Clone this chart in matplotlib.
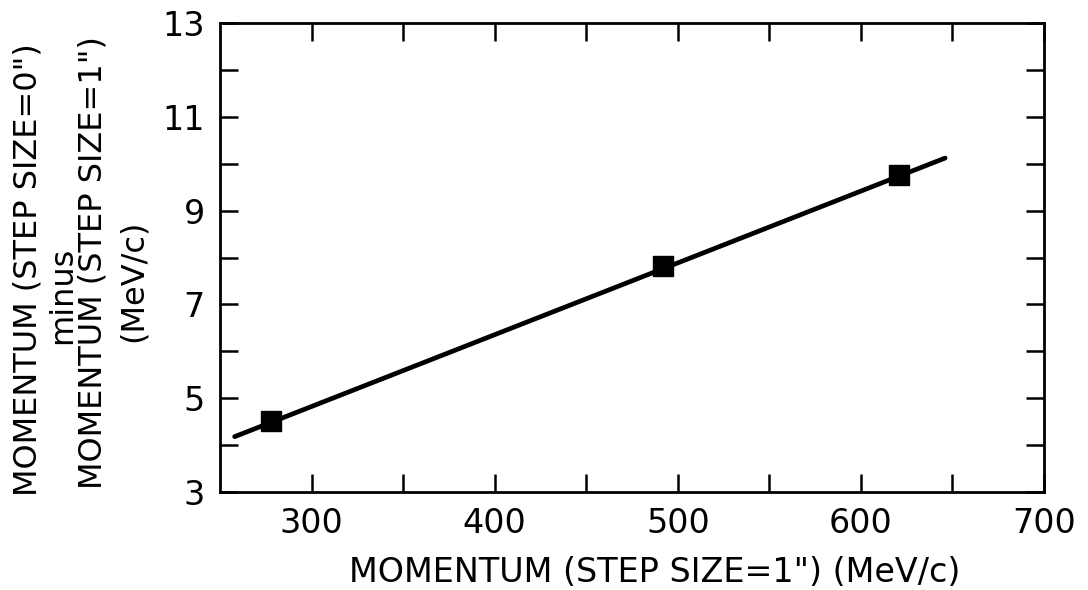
import matplotlib
matplotlib.use("Agg")
import matplotlib.pyplot as plt

# measured points (step size 1" momentum vs. difference)
p_step1 = [278, 492, 621]
dp = [4.52, 7.81, 9.75]

# straight line drawn through the points
fit_x = [258, 646]
fit_y = [4.18, 10.12]

xticks_major = [300, 400, 500, 600, 700]
xticks_minor = [350, 450, 550, 650]
yticks = list(range(3, 14))
ytick_labels = [str(v) if v % 2 == 1 else "" for v in yticks]

plt.rcParams["font.family"] = ["DejaVu Sans"]

fig = plt.figure(figsize=(10.88, 5.90), dpi=100)
ax = fig.add_axes([220 / 1088, 1 - 492 / 590, (1044 - 220) / 1088, (492 - 23) / 590])

ax.plot(fit_x, fit_y, color="black", lw=3.4, solid_capstyle="round")
ax.plot(p_step1, dp, "s", color="black", ms=14, ls="none")

ax.set_xlim(250, 700)
ax.set_ylim(3, 13)
ax.set_xticks(xticks_major)
ax.set_xticks(xticks_minor, minor=True)
ax.set_yticks(yticks)
ax.set_yticklabels(ytick_labels)

for s in ax.spines.values():
    s.set_linewidth(2.0)
ax.tick_params(which="both", direction="in", length=13, width=1.8,
               top=True, right=True, labelsize=24, pad=11)

fig.text(28 / 1088, 1 - 270 / 590, 'MOMENTUM (STEP SIZE=0")', rotation=90,
         ha="center", va="center", fontsize=23)
fig.text(63 / 1088, 1 - 295 / 590, "minus", rotation=90,
         ha="center", va="center", fontsize=23)
fig.text(93 / 1088, 1 - 263 / 590, 'MOMENTUM (STEP SIZE=1")', rotation=90,
         ha="center", va="center", fontsize=23)
fig.text(133 / 1088, 1 - 281 / 590, "(MeV/c)", rotation=90,
         ha="center", va="center", fontsize=23)

fig.text(655 / 1088, 1 - 572 / 590, 'MOMENTUM (STEP SIZE=1") (MeV/c)',
         ha="center", va="center", fontsize=24)

plt.savefig("out.png", dpi=100)
